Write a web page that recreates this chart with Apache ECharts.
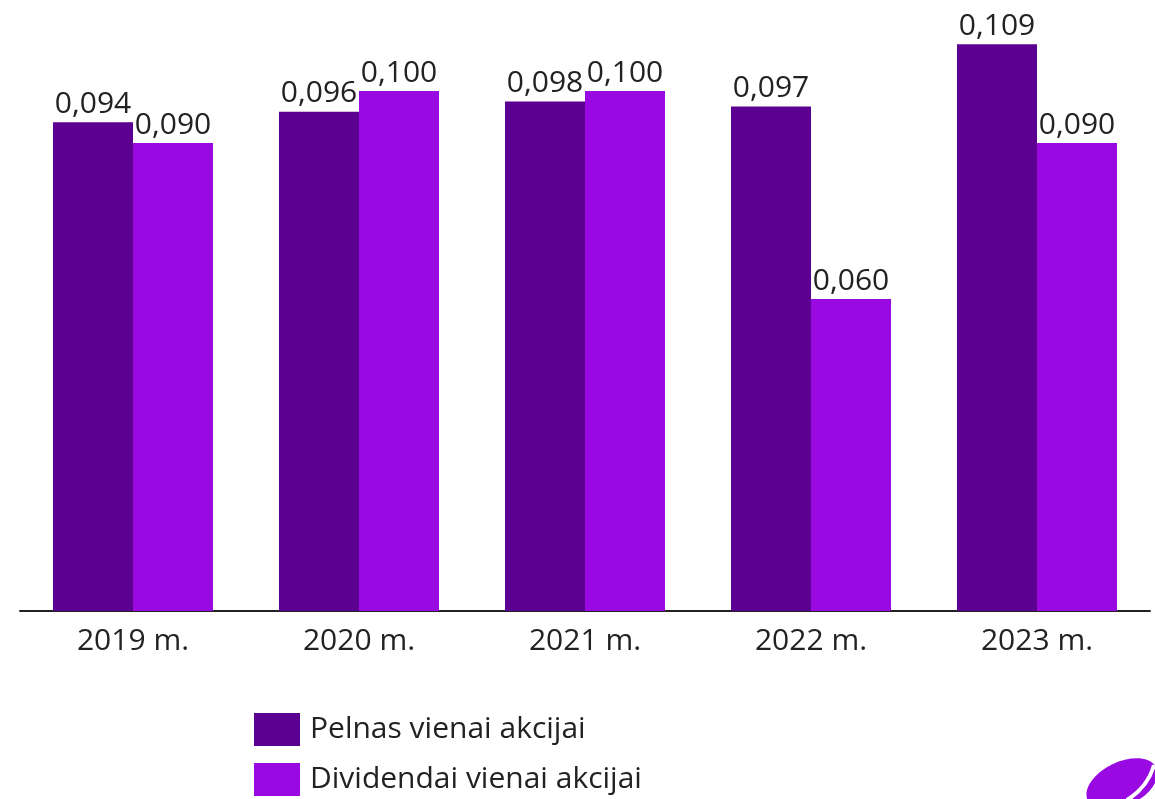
<!DOCTYPE html>
<html><head><meta charset="utf-8">
<script src="https://cdn.jsdelivr.net/npm/echarts@6/dist/echarts.min.js"></script>
<style>html,body{margin:0;padding:0;background:#fff}#c{width:1155px;height:799px}</style>
</head><body><div id="c"></div>
<script>
const categories = ['2019 m.', '2020 m.', '2021 m.', '2022 m.', '2023 m.'];
const seriesNames = ['Pelnas vienai akcijai', 'Dividendai vienai akcijai'];
const earnings = [0.094, 0.096, 0.098, 0.097, 0.109];
const dividends = [0.090, 0.100, 0.100, 0.060, 0.090];
const colors = ['#5c0092', '#990ae3'];
const font = '"Open Sans", Lato, sans-serif';
const fmt = p => p.value.toFixed(3).replace('.', ',');
const chart = echarts.init(document.getElementById('c'));
chart.setOption({
  animation: false,
  textStyle: { fontFamily: font },
  grid: { left: 20, right: 5, top: 39, height: 572 },
  xAxis: {
    type: 'category', data: categories,
    axisLine: { lineStyle: { color: '#222', width: 2 } },
    axisTick: { show: false },
    axisLabel: { fontSize: 30, color: '#222', margin: 15, fontFamily: font }
  },
  yAxis: { type: 'value', min: 0, max: 0.11, show: false },
  legend: {
    orient: 'vertical', left: 254, top: 713, padding: 0, height: 90,
    itemWidth: 46, itemHeight: 33, itemGap: 17,
    icon: 'rect',
    textStyle: { fontSize: 30, color: '#222', fontFamily: font, padding: [0, 0, 0, 5] },
    data: seriesNames
  },
  series: [
    { name: seriesNames[0], type: 'bar', data: earnings, barWidth: 80, barGap: '0%',
      itemStyle: { color: colors[0] },
      label: { show: true, position: 'top', distance: 3, fontSize: 30, color: '#222', fontFamily: font, formatter: fmt } },
    { name: seriesNames[1], type: 'bar', data: dividends, barWidth: 80, barGap: '0%',
      itemStyle: { color: colors[1] },
      label: { show: true, position: 'top', distance: 3, fontSize: 30, color: '#222', fontFamily: font, formatter: fmt } }
  ],
  graphic: [
    { type: 'ellipse', shape: { cx: 0, cy: 0, rx: 38, ry: 22 }, x: 1122, y: 784, rotation: 0.45,
      style: { fill: '#990ae3' } },
    { type: 'bezierCurve', shape: { x1: 1154, y1: 765, x2: 1127, y2: 800, cpx1: 1148, cpy1: 787 },
      style: { stroke: '#fff', lineWidth: 4, fill: null } }
  ]
});
</script></body></html>
